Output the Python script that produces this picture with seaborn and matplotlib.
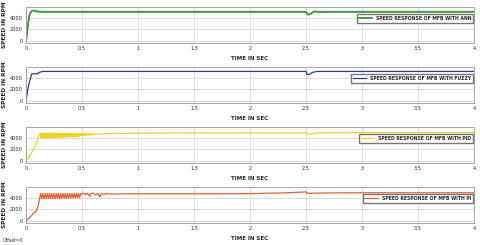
import matplotlib
matplotlib.use('Agg')
import matplotlib.pyplot as plt
import seaborn as sns
import pandas as pd

# speed responses (time in s, speed in rpm)
ann_t = [0, 0.01, 0.02, 0.03, 0.04, 0.05, 0.06, 0.07, 0.08, 0.10, 0.12, 0.15,
         2.50, 2.51, 2.52, 2.54, 2.56, 2.58, 2.62, 2.70, 4.0]
ann_v = [0, 1500, 3200, 4300, 4800, 5100, 5200, 5200, 5150, 5050, 5000, 4980,
         4980, 4700, 4500, 4650, 4900, 5050, 4950, 4980, 4980]

fuzzy_t = [0, 0.02, 0.05, 0.07, 0.10, 0.12, 0.15, 2.50, 2.51, 2.53, 2.56, 2.60, 4.0]
fuzzy_v = [0, 2500, 4600, 4650, 4650, 4900, 5050, 5050, 4500, 4550, 4900, 5050, 5050]

pid_t = [0, 0.03, 0.07, 0.10, 0.12, 0.60, 0.80, 1.0, 1.5, 2.0, 2.50, 2.52, 2.56, 2.60, 3.0, 4.0]
pid_v = [0, 800, 2000, 3500, 4700, 4600, 4700, 4750, 4800, 4800, 4800, 4550, 4650, 4800, 4850, 4850]
# chattering band of the PID response
pid_band_t = [0.12, 0.20, 0.30, 0.45, 0.52, 0.60]
pid_band_hi = [4850, 4800, 4850, 4800, 4750, 4700]
pid_band_lo = [4000, 4000, 4050, 4200, 4400, 4500]

pi_t = [0, 0.03, 0.06, 0.09, 0.11, 0.13,
        0.14, 0.15, 0.16, 0.17, 0.18, 0.19, 0.20, 0.21, 0.22, 0.23, 0.24, 0.25,
        0.26, 0.27, 0.28, 0.29, 0.30, 0.31, 0.32, 0.33, 0.34, 0.35, 0.36, 0.37,
        0.38, 0.39, 0.40, 0.41, 0.42, 0.43, 0.44, 0.45, 0.46, 0.47, 0.48, 0.49, 0.50,
        0.52, 0.53, 0.55, 0.57, 0.58, 0.60, 0.62, 0.64, 0.66, 0.67, 0.70, 0.72, 0.75,
        1.0, 1.5, 2.0, 2.30, 2.48, 2.50, 2.52, 2.55, 2.70, 3.0, 4.0]
pi_v = [0, 600, 1200, 1700, 2700, 4700,
        3800, 4700, 3800, 4700, 3800, 4700, 3850, 4700, 3800, 4700, 3850, 4700,
        3800, 4700, 3850, 4700, 3800, 4700, 3850, 4700, 3900, 4700, 3850, 4700,
        3900, 4700, 3900, 4700, 3950, 4700, 3950, 4700, 4000, 4700, 4000, 4700, 4600,
        4750, 4500, 4750, 4200, 4700, 4750, 4450, 4700, 4100, 4650, 4550, 4700, 4600,
        4650, 4650, 4680, 4800, 4950, 4950, 4700, 4750, 4800, 4820, 4820]

labels = ['SPEED RESPONSE OF MFB WITH ANN', 'SPEED RESPONSE OF MFB WITH FUZZY',
          'SPEED RESPONSE OF MFB WITH PID', 'SPEED RESPONSE OF MFB WITH PI']
colors = ['#3f9a3f', '#2b3a94', '#f2d21c', '#e2622e']
series = [(ann_t, ann_v), (fuzzy_t, fuzzy_v), (pid_t, pid_v), (pi_t, pi_v)]

sns.set_style('whitegrid')
fig = plt.figure(figsize=(4.8, 2.45), dpi=100, facecolor='white')
tops = [7, 67, 127, 187]

for i, ((t, v), lab, col) in enumerate(zip(series, labels, colors)):
    ax = fig.add_axes([26 / 480, (245 - tops[i] - 36) / 245, 448 / 480, 36 / 245])
    df = pd.DataFrame({'t': t, 'v': v})
    lw = 1.4 if i == 0 else 0.9
    sns.lineplot(data=df, x='t', y='v', color=col, linewidth=lw, ax=ax,
                 label=lab, sort=False)
    if i == 2:
        ax.fill_between(pid_band_t, pid_band_lo, pid_band_hi, color=col, lw=0)
    ax.set_xlim(0, 4)
    ax.set_ylim(-300, 5800)
    ax.set_xticks([0, 0.5, 1, 1.5, 2, 2.5, 3, 3.5, 4])
    ax.set_xticklabels(['0', '0.5', '1', '1.5', '2', '2.5', '3', '3.5', '4'])
    ax.set_yticks([0, 2000, 4000])
    ax.tick_params(axis='both', labelsize=3.6, length=0, pad=2.5)
    ax.grid(True, color='#d6d6d6', linewidth=0.6)
    for s in ax.spines.values():
        s.set_color('#9a9a9a')
        s.set_linewidth(0.6)
    ax.set_xlabel('TIME IN SEC', fontsize=4, fontweight='bold', labelpad=3)
    ax.set_ylabel('SPEED IN RPM', fontsize=4.2, fontweight='bold', labelpad=2)
    ax.legend(loc='center right', bbox_to_anchor=(1.0, 0.68),
              prop={'size': 3.3, 'weight': 'bold'},
              frameon=True, fancybox=False, edgecolor='#777777', framealpha=1,
              handlelength=3, borderpad=0.4, borderaxespad=0.2)

fig.text(0.005, 0.012, 'Offset=0', fontsize=3.3, color='#333333')
plt.savefig('out.png', dpi=100)
